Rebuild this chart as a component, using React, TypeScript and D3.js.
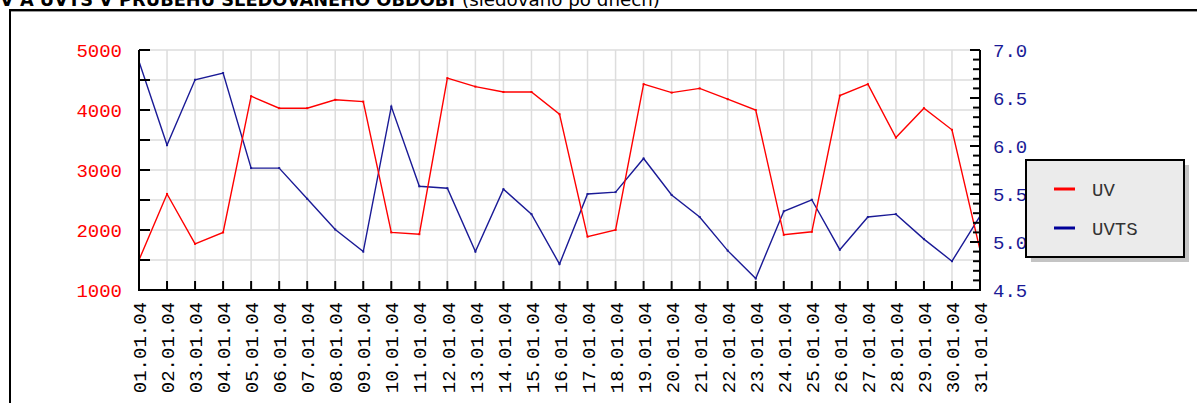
import React from "react";
import * as d3 from "d3";

const categories = [
  "01.01.04","02.01.04","03.01.04","04.01.04","05.01.04","06.01.04","07.01.04","08.01.04",
  "09.01.04","10.01.04","11.01.04","12.01.04","13.01.04","14.01.04","15.01.04","16.01.04",
  "17.01.04","18.01.04","19.01.04","20.01.04","21.01.04","22.01.04","23.01.04","24.01.04",
  "25.01.04","26.01.04","27.01.04","28.01.04","29.01.04","30.01.04","31.01.04",
];
const uv = [1500,2600,1770,1960,4230,4030,4030,4170,4140,1960,1930,4530,4390,4300,4300,3930,
  1890,2000,4430,4290,4360,4180,4000,1920,1970,4240,4430,3540,4030,3670,1670];
const uvts = [6.88,6.01,6.69,6.76,5.77,5.77,5.45,5.13,4.90,6.41,5.58,5.56,4.90,5.55,5.29,4.77,
  5.50,5.52,5.87,5.49,5.26,4.91,4.62,5.32,5.44,4.92,5.26,5.29,5.03,4.80,5.27];
const leftTicks = [1000, 2000, 3000, 4000, 5000];
const rightTicks = [4.5, 5.0, 5.5, 6.0, 6.5, 7.0];
const seriesNames = ["UV", "UVTS"];
const titleBold = "V A UVTS V PRŮBĚHU SLEDOVANÉHO OBDOBÍ";
const titleNormal = "(sledováno po dnech)";

const W = 1197, H = 403;
const PL = 139, PR = 980, PT = 50, PB = 290;
const RED = "#ff0000";
const BLUE = "#1a1a96";
const MONO = "'Liberation Mono', 'DejaVu Sans Mono', monospace";
const SANS = "'DejaVu Sans', Verdana, sans-serif";

export default function App() {
  const x = d3.scalePoint<string>().domain(categories).range([PL, PR]);
  const yL = d3.scaleLinear().domain([1000, 5000]).range([PB, PT]);
  const yR = d3.scaleLinear().domain([4.5, 7.0]).range([PB, PT]);

  const lineL = d3.line<number>().x((_, i) => x(categories[i])!).y((d) => yL(d));
  const lineR = d3.line<number>().x((_, i) => x(categories[i])!).y((d) => yR(d));

  const hGrid = d3.range(1000, 5001, 500);
  const rMinor = d3.range(45, 71).map((v) => v / 10);

  return (
    <svg width={W} height={H} style={{ position: "absolute", left: 0, top: 0, background: "#fff" }}>
      {/* title */}
      <text x={0} y={6} fontFamily={SANS} fontWeight="bold" fontSize={18} fill="#000"
        textLength={455} lengthAdjust="spacingAndGlyphs">
        {titleBold}
      </text>
      <text x={462} y={6} fontFamily={SANS} fontSize={18} fill="#000" textLength={198} lengthAdjust="spacingAndGlyphs">
        {titleNormal}
      </text>
      {/* frame */}
      <line x1={9} y1={10} x2={W} y2={10} stroke="#000" strokeWidth={2} />
      <line x1={9} y1={11.5} x2={W} y2={11.5} stroke="#999" strokeWidth={1} />
      <line x1={10} y1={9} x2={10} y2={H} stroke="#000" strokeWidth={2} />

      {/* grid */}
      <g stroke="#dddddd" strokeWidth={1.5}>
        {hGrid.map((v) => (
          <line key={"h" + v} x1={PL} x2={PR} y1={yL(v)} y2={yL(v)} />
        ))}
        {categories.map((c) => (
          <line key={"v" + c} x1={x(c)} x2={x(c)} y1={PT} y2={PB} />
        ))}
      </g>

      {/* series */}
      <path d={lineR(uvts)!} fill="none" stroke={BLUE} strokeWidth={1.4} />
      <path d={lineL(uv)!} fill="none" stroke={RED} strokeWidth={1.4} />
      {uvts.map((v, i) => (
        <rect key={"b" + i} x={x(categories[i])! - 1} y={yR(v) - 1} width={2} height={2} fill={BLUE} />
      ))}
      {uv.map((v, i) => (
        <rect key={"r" + i} x={x(categories[i])! - 1} y={yL(v) - 1} width={2} height={2} fill={RED} />
      ))}

      {/* axes */}
      <g stroke="#000" strokeWidth={2}>
        <line x1={PL} x2={PL} y1={PT} y2={PB + 1} />
        <line x1={PR} x2={PR} y1={PT} y2={PB + 1} />
        <line x1={PL} x2={PR} y1={PB} y2={PB} />
        {hGrid.map((v) => (
          <line key={"lt" + v} x1={PL} x2={PL + 11} y1={yL(v)} y2={yL(v)} />
        ))}
        {rMinor.map((v, i) => (
          <line key={"rt" + i} x1={PR} x2={PR - (i % 5 === 0 ? 10 : 7)} y1={yR(v)} y2={yR(v)} />
        ))}
        {categories.map((c) => (
          <line key={"bt" + c} x1={x(c)} x2={x(c)} y1={PB} y2={PB - 9} />
        ))}
      </g>

      {/* left labels */}
      {leftTicks.map((v) => (
        <text key={"ll" + v} x={122} y={yL(v)} dy="0.35em" textAnchor="end" fontFamily={MONO} fontSize={19} fill={RED}>
          {v}
        </text>
      ))}
      {/* right labels */}
      {rightTicks.map((v) => (
        <text key={"rl" + v} x={993} y={yR(v)} dy="0.35em" fontFamily={MONO} fontSize={19} fill={BLUE}>
          {v.toFixed(1)}
        </text>
      ))}
      {/* x labels */}
      {categories.map((c) => (
        <text key={"xl" + c} transform={`translate(${x(c)! + 0.5},302) rotate(-90)`} dy="0.35em" textAnchor="end"
          fontFamily={MONO} fontSize={19} fill="#000">
          {c}
        </text>
      ))}

      {/* legend */}
      <rect x={1031} y={165} width={158} height={97} fill="#c4c4c4" />
      <rect x={1026} y={160} width={158} height={97} fill="#ebebeb" stroke="#000" strokeWidth={2} />
      {seriesNames.map((n, i) => (
        <g key={n}>
          <line x1={1054} x2={1075} y1={189 + i * 39} y2={189 + i * 39} stroke={i === 0 ? RED : "#000099"} strokeWidth={3} />
          <text x={1092} y={189 + i * 39} dy="0.35em" fontFamily={MONO} fontSize={19} fill="#333">
            {n}
          </text>
        </g>
      ))}
    </svg>
  );
}
